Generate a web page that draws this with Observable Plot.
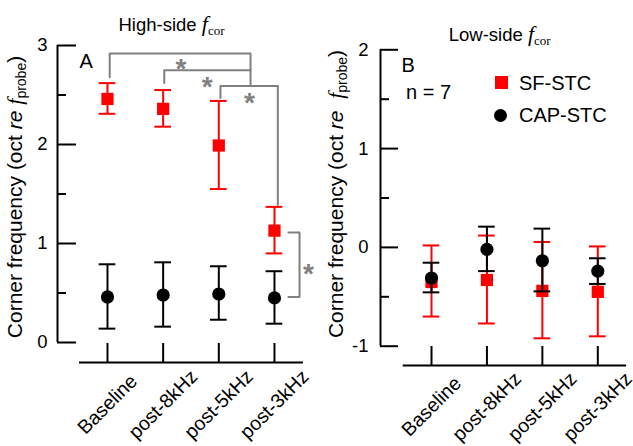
<!DOCTYPE html>
<html><head><meta charset="utf-8">
<script src="https://cdn.jsdelivr.net/npm/d3@7"></script>
<script src="https://cdn.jsdelivr.net/npm/@observablehq/plot@0.6"></script>
<style>
body{margin:0;background:#fff}
#wrap{position:relative;width:633px;height:446px;overflow:hidden;font-family:"Liberation Sans",Arial,sans-serif;color:#000;background:#fff}
.ov{position:absolute;white-space:nowrap;line-height:1}
.sf{font-family:"Liberation Serif","Times New Roman",serif;font-style:italic}
.sub{position:relative;top:0.3em}
</style></head><body>
<div id="wrap"><div id="left" style="position:absolute;left:0;top:0"></div><div id="right" style="position:absolute;left:316px;top:0"></div></div>
<script>
// ---- data ----
const categories = ["Baseline", "post-8kHz", "post-5kHz", "post-3kHz"];
// High-side f_cor (panel A)
const highSF    = [2.46, 2.36, 1.99, 1.13];
const highSFlo  = [2.31, 2.18, 1.55, 0.90];
const highSFhi  = [2.62, 2.55, 2.44, 1.37];
const highCAP   = [0.46, 0.48, 0.49, 0.45];
const highCAPlo = [0.14, 0.16, 0.23, 0.19];
const highCAPhi = [0.79, 0.81, 0.77, 0.72];
// Low-side f_cor (panel B)
const lowSF    = [-0.35, -0.33, -0.44, -0.45];
const lowSFlo  = [-0.70, -0.77, -0.92, -0.90];
const lowSFhi  = [0.02, 0.12, 0.055, 0.01];
const lowCAP   = [-0.31, -0.02, -0.135, -0.24];
const lowCAPlo = [-0.455, -0.24, -0.445, -0.37];
const lowCAPhi = [-0.155, 0.21, 0.19, -0.11];
// y ticks
const highMajor = [0, 1, 2, 3];
const highMinor = [0.5, 1.5, 2.5];
const lowMajor = [-1, 0, 1, 2];
const lowMinor = [-0.5, 0.5, 1.5];
// significance brackets (panel A, data coordinates: category index, value)
const bracketPaths = [
  [[0.04, 2.68], [0.04, 2.92], [2.57, 2.92], [2.57, 2.59]],
  [[1.02, 2.62], [1.02, 2.75], [2.57, 2.75]],
  [[2.03, 2.47], [2.03, 2.59], [3.06, 2.59], [3.06, 1.39]],
  [[3.25, 1.11], [3.45, 1.11], [3.45, 0.46], [3.25, 0.46]]
];
const starPos = [[1.32, 2.83], [1.79, 2.65], [2.55, 2.49], [3.61, 0.76]];

// ---- helpers ----
const idx = categories.map((_, i) => i);
const rows = (v, lo, hi) => v.map((d, i) => ({i, v: d, lo: lo[i], hi: hi[i]}));
const RED = "#ff0000", BLK = "#000000", GRAY = "#808080";
const CAPW = 0.15;

function seriesMarks(data, color, symbol, r) {
  return [
    Plot.ruleX(data, {x: "i", y1: "lo", y2: "hi", stroke: color, strokeWidth: 2}),
    Plot.ruleY(data, {y: "hi", x1: d => d.i - CAPW, x2: d => d.i + CAPW, stroke: color, strokeWidth: 2}),
    Plot.ruleY(data, {y: "lo", x1: d => d.i - CAPW, x2: d => d.i + CAPW, stroke: color, strokeWidth: 2}),
    Plot.dot(data, {x: "i", y: "v", symbol, r, fill: color, stroke: "none"})
  ];
}

function panel(o) {
  return Plot.plot({
    width: o.width, height: 446,
    marginLeft: o.marginLeft, marginRight: 0, marginTop: o.marginTop, marginBottom: o.marginBottom,
    style: {fontFamily: '"Liberation Sans", Arial, sans-serif', fontSize: "18px", color: "black", background: "white"},
    x: {domain: o.xDomain},
    y: {domain: o.yDomain},
    marks: [
      Plot.ruleX([o.xDomain[0]], {y1: o.yDomain[0], y2: o.yDomain[1], strokeWidth: 2}),
      Plot.axisY(o.major, {tickSize: o.majorLen, dx: o.majorLen, tickFormat: () => "", strokeWidth: 2, label: null}),
      Plot.axisY(o.minor, {tickSize: o.minorLen, dx: o.minorLen, tickFormat: () => "", strokeWidth: 2, label: null}),
      Plot.axisY(o.major, {tickSize: 0, tickPadding: o.labelPad, tickFormat: d => String(d), fontSize: 18.5, label: null}),
      Plot.ruleY([o.yDomain[0]], {dy: o.xLineDy, x1: o.xLine[0], x2: o.xLine[1], strokeWidth: 2}),
      Plot.axisX(idx, {tickSize: 19, dy: o.xTickDy, tickFormat: () => "", strokeWidth: 2, label: null}),
      Plot.text(idx, {x: d => d, y: () => o.yDomain[0], text: i => categories[i], rotate: -45,
        textAnchor: "middle", lineAnchor: "middle", fontSize: 19.5, dy: o.xLabelDy}),
      ...o.marks
    ]
  });
}

const bracketData = bracketPaths.flatMap((p, k) => p.map(([x, y]) => ({k, x, y})));

const left = panel({
  width: 316, marginLeft: 57, marginTop: 45, marginBottom: 104,
  xDomain: [-0.898, 3.755], yDomain: [0, 3],
  major: highMajor, minor: highMinor, majorLen: 19, minorLen: 9, labelPad: 10,
  xLine: [-0.503, 3.52], xLineDy: 20, xTickDy: 1, xLabelDy: 62,
  marks: [
    ...seriesMarks(rows(highSF, highSFlo, highSFhi), RED, "square", 6.9),
    ...seriesMarks(rows(highCAP, highCAPlo, highCAPhi), BLK, "circle", 6.6),
    Plot.line(bracketData, {x: "x", y: "y", z: "k", stroke: GRAY, strokeWidth: 2}),
    Plot.text(starPos, {x: d => d[0], y: d => d[1], text: () => "*", fontSize: 28, fontWeight: "bold", fill: GRAY, dy: 7})
  ]
});

const right = panel({
  width: 317, marginLeft: 64, marginTop: 49.3, marginBottom: 100.3,
  xDomain: [-0.92, 3.644], yDomain: [-1, 2],
  major: lowMajor, minor: lowMinor, majorLen: 18, minorLen: 9, labelPad: 12,
  xLine: [-0.51, 3.52], xLineDy: 19.3, xTickDy: 0.3, xLabelDy: 60.5,
  marks: [
    ...seriesMarks(rows(lowSF, lowSFlo, lowSFhi), RED, "square", 6.9),
    ...seriesMarks(rows(lowCAP, lowCAPlo, lowCAPhi), BLK, "circle", 6.6)
  ]
});

document.getElementById("left").appendChild(left);
document.getElementById("right").appendChild(right);

// ---- text overlays (titles, panel letters, axis labels, legend) ----
const wrap = document.getElementById("wrap");
function txt(html, x, baseline, fs) {
  const d = document.createElement("div");
  d.className = "ov";
  d.style.fontSize = fs + "px";
  d.style.left = x + "px";
  d.style.top = (baseline - 0.8465 * fs) + "px";
  d.innerHTML = html;
  wrap.appendChild(d);
  return d;
}
function vtxt(html, cx, cy, fs) {
  const d = document.createElement("div");
  d.className = "ov";
  d.style.fontSize = fs + "px";
  d.style.left = cx + "px";
  d.style.top = cy + "px";
  d.style.transform = "translate(-50%,-50%) rotate(-90deg)";
  d.innerHTML = html;
  wrap.appendChild(d);
}
const fcor = '<span class="sf" style="font-size:22px">f</span><span class="sf sub" style="font-size:13px;font-style:normal">cor</span>';
txt("High-side " + fcor, 118.5, 29, 18.5);
txt("Low-side " + fcor, 448.7, 39, 18.5);
txt("A", 79.5, 68.3, 20);
txt("B", 401.5, 71.7, 20);
txt("n = 7", 406, 98.5, 20);
const ylab = sp => 'Corner frequency (oct <i>re</i>' + sp + '<span class="sf" style="font-size:22px">f</span><span class="sub" style="font-size:14px">probe</span>)';
vtxt(ylab(" "), 14.5, 197, 21);
vtxt(ylab("&nbsp; "), 336, 194, 21);

// legend
function swatch(cx, cy, size, color, round) {
  const d = document.createElement("div");
  d.style.cssText = `position:absolute;left:${cx - size / 2}px;top:${cy - size / 2}px;width:${size}px;height:${size}px;background:${color};border-radius:${round ? "50%" : "0"}`;
  wrap.appendChild(d);
}
swatch(501.7, 82.7, 13, RED, false);
swatch(500, 115, 13, BLK, true);
txt("SF-STC", 519, 89.5, 20);
txt("CAP-STC", 519, 122, 20);
</script>
</body></html>
